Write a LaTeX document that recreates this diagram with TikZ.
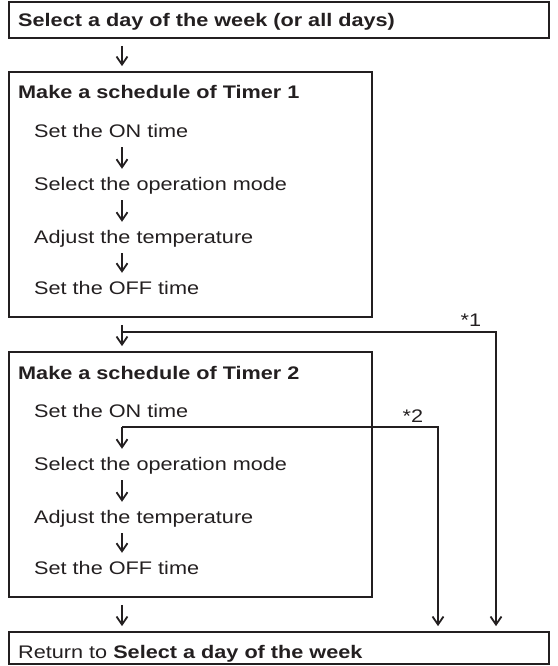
\documentclass[tikz,border=0pt]{standalone}
\usepackage{fontspec}
\setmainfont{Liberation Sans}[FakeStretch=1.19]
\usetikzlibrary{
    arrows.meta,
    positioning,
    calc
}
\definecolor{ink}{RGB}{35,31,32}

\begin{document}
\begin{tikzpicture}[
    x=1pt, y=-1pt,
    every node/.style={
        font=\fontsize{18.2pt}{22pt}\selectfont,
        text=ink
    },
    box/.style={
        rectangle,
        draw=ink,
        line width=1.8pt,
        inner sep=0pt
    },
    heading/.style={
        anchor=base west,
        inner sep=0pt,
        font=\fontsize{18.2pt}{22pt}\selectfont\bfseries
    },
    item/.style={
        anchor=base west,
        inner xsep=0pt,
        inner ysep=8pt,
        text height=13pt,
        text depth=2pt
    },
    arrow/.style={
        -{Straight Barb[length=8pt,width=11pt]},
        line width=1.8pt,
        draw=ink
    },
    boxarrow/.style={
        arrow,
        shorten <=7pt,
        shorten >=5pt
    },
    tag/.style={
        anchor=base east,
        inner sep=0pt
    }
]
\useasboundingbox (0,0) rectangle (557,666);

% ===========================================================
% Columns used by the connectors
% ===========================================================
\coordinate (col) at (122,0);
\coordinate (skip1) at (496,0);
\coordinate (skip2) at (438,0);

% ===========================================================
% Day selection
% ===========================================================
\node[box, minimum width=540, minimum height=36] (sel) at (279,20) {};
\node[heading] (seltext) at (18,27)
    {Select a day of the week (or all days)};

% ===========================================================
% Timer 1
% ===========================================================
\node[box, minimum width=363, minimum height=245] (t1) at (190.5,194.5) {};
\node[heading] (t1head) at (18,99) {Make a schedule of Timer 1};
\node[item] (t1on) at (34,137) {Set the ON time};
\node[item] (t1mode) at (34,190) {Select the operation mode};
\node[item] (t1temp) at (34,243) {Adjust the temperature};
\node[item] (t1off) at (34,294) {Set the OFF time};

\draw[arrow] (t1on.south -| col) -- (t1mode.north -| col);
\draw[arrow] (t1mode.south -| col) -- (t1temp.north -| col);
\draw[arrow] (t1temp.south -| col) -- (t1off.north -| col);

% ===========================================================
% Timer 2
% ===========================================================
\node[box, minimum width=363, minimum height=245] (t2) at (190.5,474.5) {};
\node[heading] (t2head) at (18,379) {Make a schedule of Timer 2};
\node[item] (t2on) at (34,417) {Set the ON time};
\node[item] (t2mode) at (34,470) {Select the operation mode};
\node[item] (t2temp) at (34,523) {Adjust the temperature};
\node[item] (t2off) at (34,574) {Set the OFF time};

\draw[arrow] (t2on.south -| col) -- (t2mode.north -| col);
\draw[arrow] (t2mode.south -| col) -- (t2temp.north -| col);
\draw[arrow] (t2temp.south -| col) -- (t2off.north -| col);

% ===========================================================
% Return
% ===========================================================
\node[box, minimum width=540, minimum height=32] (ret) at (279,648) {};
\node[anchor=base west, inner sep=0pt] (rettext) at (18,658)
    {Return to \textbf{Select a day of the week}};

% Main pathway
\draw[boxarrow] (sel.south -| col) -- (t1.north -| col);
\draw[boxarrow] (t1.south -| col) -- (t2.north -| col);
\draw[boxarrow] (t2.south -| col) -- (ret.north -| col);

% Skipping branches
\coordinate (fork1) at ($(t1.south -| col)+(0,14)$);
\coordinate (fork2) at (t2on.south -| col);

\draw[arrow, shorten >=5pt]
    (fork1)
    -| node[tag, pos=0.5, xshift=-14pt, yshift=5pt] {*1}
    (ret.north -| skip1);

\draw[arrow, shorten >=5pt]
    (fork2)
    -| node[tag, pos=0.5, xshift=-14pt, yshift=5pt] {*2}
    (ret.north -| skip2);

\end{tikzpicture}
\end{document}
